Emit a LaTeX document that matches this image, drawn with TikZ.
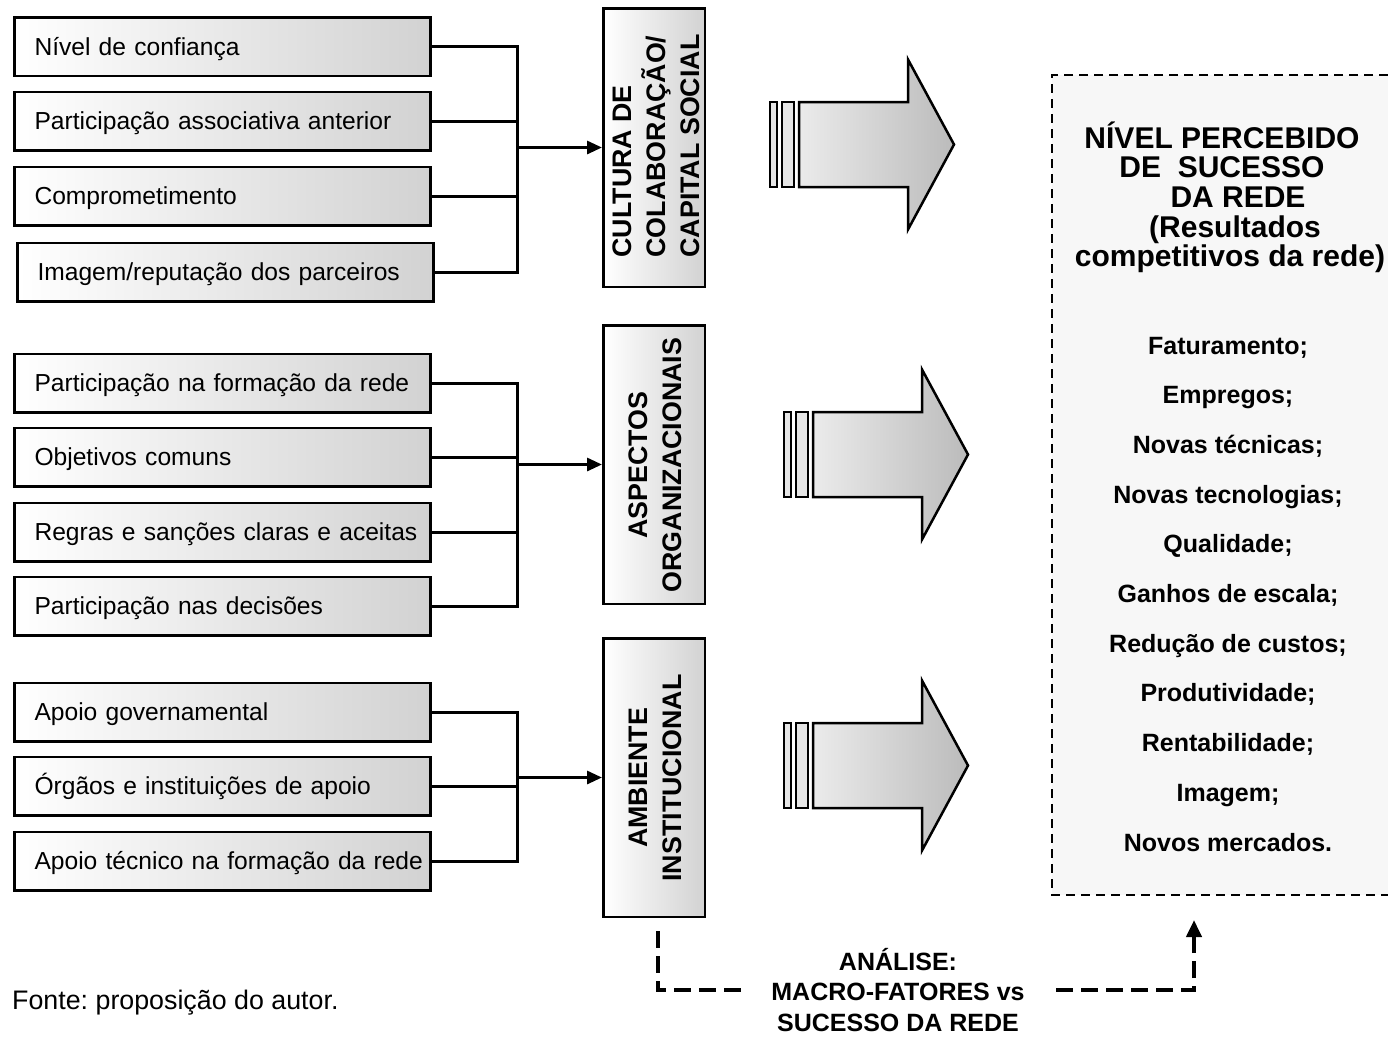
\documentclass[tikz,border=0pt]{standalone}
\usepackage{fontspec}
\setmainfont{Liberation Sans}
\usetikzlibrary{arrows.meta}
\frenchspacing

\definecolor{shadeR}{HTML}{D2D2D2}
\definecolor{arrowL}{HTML}{EBEBEB}
\definecolor{arrowR}{HTML}{BBBBBB}
\definecolor{barfill}{HTML}{E6E6E6}
\definecolor{outfill}{HTML}{F7F7F7}

\tikzset{
  factor/.style={draw=black, line width=2.5pt, left color=white, right color=shadeR,
    minimum width=416pt, minimum height=58.5pt, inner xsep=0pt, inner ysep=0pt,
    text width=416pt, align=left, anchor=west,
    text height=17.6pt, text depth=0pt,
    execute at begin node={\hspace*{20pt}},
    font=\fontsize{24.6}{29}\selectfont},
  macrobox/.style={draw=black, line width=2.5pt, left color=white, right color=shadeR,
    minimum width=101.5pt, minimum height=278.5pt, inner sep=0pt},
  macrotext/.style={rotate=90, inner sep=0pt, font=\bfseries\fontsize{26.8}{34}\selectfont},
  conn/.style={line width=3pt, line cap=rect},
  conntip/.style={line width=3pt, -{Triangle[length=15pt,width=13pt]}},
  dashconn/.style={line width=4pt, dash pattern=on 17pt off 8pt},
  outline/.style={line width=2pt, dash pattern=on 9pt off 6pt},
  resultline/.style={anchor=base, inner sep=0pt, font=\bfseries\fontsize{25}{30}\selectfont},
  titleline/.style={anchor=base, inner sep=0pt, font=\bfseries\fontsize{30}{30}\selectfont},
  bigarrow/.pic={
    \draw[line width=2pt, fill=barfill] (-29,-42.5) rectangle (-22,42.5);
    \draw[line width=2pt, fill=barfill] (-17,-42.5) rectangle (-5,42.5);
    \draw[line width=2.5pt, line join=miter, left color=arrowL, right color=arrowR]
      (0,-42.5) -- (109,-42.5) -- (109,-85) -- (155,0) -- (109,85) -- (109,42.5)
      -- (0,42.5) -- cycle;
  }
}

\begin{document}
\begin{tikzpicture}[x=1pt,y=-1pt]
\useasboundingbox (0,0) rectangle (1388,1037);

% ---- factor boxes ----
\node[factor] (f1) at (13.25,46.5) {Nível de confiança};
\node[factor] (f2) at (13.25,121) {Participação associativa anterior};
\node[factor] (f3) at (13.25,196) {Comprometimento};
\node[factor] (f4) at (16.25,272) {Imagem/reputação dos parceiros};

\node[factor] (g1) at (13.25,383) {Participação na formação da rede};
\node[factor] (g2) at (13.25,457) {Objetivos comuns};
\node[factor] (g3) at (13.25,532) {Regras e sanções claras e aceitas};
\node[factor] (g4) at (13.25,606) {Participação nas decisões};

\node[factor] (h1) at (13.25,712) {Apoio governamental};
\node[factor] (h2) at (13.25,786) {Órgãos e instituições de apoio};
\node[factor] (h3) at (13.25,861) {Apoio técnico na formação da rede};

% ---- macro-factor boxes ----
\node[macrobox] (c1) at (654,147.5) {};
\node[macrotext, align=left] (c1t) at (656,146) {CULTURA DE\\COLABORAÇÃO/\\CAPITAL SOCIAL};
\node[macrobox] (c2) at (654,464.5) {};
\node[macrotext, align=center] (c2t) at (655,465) {ASPECTOS\\ORGANIZACIONAIS};
\node[macrobox] (c3) at (654,777.5) {};
\node[macrotext, align=center] (c3t) at (655,778) {AMBIENTE\\INSTITUCIONAL};

% ---- bus lines into each macro-factor ----
\coordinate (j1) at (517,147.5);
\coordinate (j2) at (517,464.5);
\coordinate (j3) at (517,777.5);
\foreach \f in {f1,f2,f3,f4} \draw[conn] (\f.east) -- (\f.east -| j1);
\draw[conn] (f1.east -| j1) -- (f4.east -| j1);
\draw[conntip] (j1) -- (j1 -| c1.west);
\foreach \f in {g1,g2,g3,g4} \draw[conn] (\f.east) -- (\f.east -| j2);
\draw[conn] (g1.east -| j2) -- (g4.east -| j2);
\draw[conntip] (j2) -- (j2 -| c2.west);
\foreach \f in {h1,h2,h3} \draw[conn] (\f.east) -- (\f.east -| j3);
\draw[conn] (h1.east -| j3) -- (h3.east -| j3);
\draw[conntip] (j3) -- (j3 -| c3.west);

% ---- block arrows ----
\pic at (799,144.5) {bigarrow};
\pic at (813,454.5) {bigarrow};
\pic at (813,765.5) {bigarrow};

% ---- result panel ----
\fill[outfill] (1052,75) rectangle (1388,895);
\draw[outline] (1388,75) -- (1052,75) -- (1052,895) -- (1388,895);

\node[titleline] (t1) at (1222,148) {NÍVEL PERCEBIDO};
\node[titleline] (t2) at (1222,177) {DE\ \ SUCESSO};
\node[titleline] (t3) at (1238,207) {DA REDE};
\node[titleline] (t4) at (1235,237) {(Resultados};
\node[titleline] (t5) at (1230,266) {competitivos da rede)};

\foreach \r [count=\i from 0] in {Faturamento;, Empregos;, Novas técnicas;,
    Novas tecnologias;, Qualidade;, Ganhos de escala;, Redução de custos;,
    Produtividade;, Rentabilidade;, Imagem;, Novos mercados.}
  \node[resultline] (r\i) at (1228,354+49.7*\i) {\r};

% ---- analysis link ----
\node[align=center, inner sep=0pt, font=\bfseries\fontsize{25}{30.5}\selectfont]
  (anl) at (898,990) {ANÁLISE:\\MACRO-FATORES vs\\SUCESSO DA REDE};
\coordinate (dA) at (658,931);
\coordinate (dB) at (748,990);
\coordinate (dC) at (1056,990);
\coordinate (dD) at (1194,920);
\draw[dashconn] (dA) |- (dB);
\draw[dashconn, -{Triangle[length=17pt,width=15pt]}] (dC) -| (dD);

% ---- source ----
\node[anchor=base west, inner sep=0pt, font=\fontsize{26.8}{30}\selectfont] (src) at (12,1009)
  {Fonte: proposição do autor.};
\end{tikzpicture}
\end{document}
